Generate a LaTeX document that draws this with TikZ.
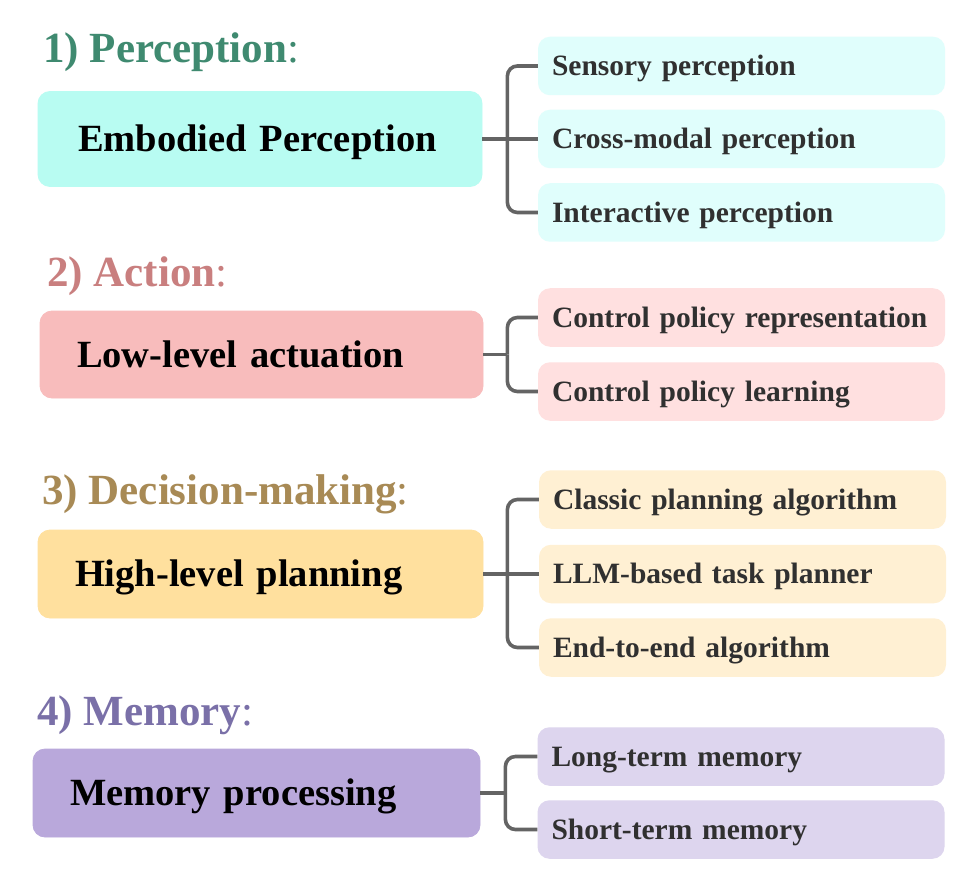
\documentclass[tikz,border=0pt]{standalone}
\usepackage{fontspec}
\setmainfont{Liberation Serif}
\usetikzlibrary{calc}
\definecolor{tA}{HTML}{3F8A70}
\definecolor{mA}{HTML}{B8FCF2}
\definecolor{sA}{HTML}{E0FEFC}
\definecolor{tB}{HTML}{C97F7F}
\definecolor{mB}{HTML}{F8BCBC}
\definecolor{sB}{HTML}{FFE0E0}
\definecolor{tC}{HTML}{A88A55}
\definecolor{mC}{HTML}{FFE09E}
\definecolor{sC}{HTML}{FFF0D3}
\definecolor{tD}{HTML}{7A70A8}
\definecolor{mD}{HTML}{B9A8DB}
\definecolor{sD}{HTML}{DDD5EE}
\definecolor{connc}{HTML}{646464}
\definecolor{subtext}{HTML}{303030}
\begin{document}
\begin{tikzpicture}[x=1pt,y=-1pt,
  titletext/.style={anchor=base west, inner sep=0pt, font=\fontsize{43}{50}\selectfont},
  mainbox/.style={rounded corners=12pt, draw=#1, fill=#1, line width=0.8pt,
     inner xsep=37pt, inner ysep=0pt, text width=371pt, minimum width=445pt, align=left,
     text height=34.6pt, text depth=9.2pt, text=black,
     font=\fontsize{38.5}{44}\selectfont\bfseries},
  subbox/.style={rounded corners=12pt, fill=#1, inner xsep=14pt, inner ysep=0pt,
     text width=379pt, minimum width=407pt, minimum height=58.5pt, align=left,
     text height=26.5pt, text depth=7.1pt, text=subtext,
     font=\fontsize{29.5}{34}\selectfont\bfseries},
  conn/.style={draw=connc, line width=3.6pt},
  branch/.style={conn, rounded corners=10pt}
]
\path[use as bounding box, fill=white] (0,0) rectangle (968,882);

% ---------- Row 1 ----------
\node[titletext, text=tA] (title1) at (43,63) {\bfseries 1) Perception\mdseries:};
\node[mainbox=mA, minimum height=95pt, inner xsep=40pt, text width=364pt, minimum width=444pt] (m1) at (260,139) {Embodied Perception};
\node[subbox=sA] (s11) at (741.5,66) {Sensory perception};
\node[subbox=sA] (s12) at (741.5,139) {Cross-modal perception};
\node[subbox=sA] (s13) at (741.5,212.5) {Interactive perception};
\coordinate (t1) at ($(m1.east)+(25,0)$);
\draw[conn] (m1.east) -- (s12.west);
\draw[branch] (t1) |- (s11.west);
\draw[branch] (t1) |- (s13.west);

% ---------- Row 2 ----------
\node[titletext, text=tB] (title2) at (47,287) {\bfseries 2) Action\mdseries:};
\node[mainbox=mB, minimum height=87pt, minimum width=443pt, text width=369pt] (m2) at (261.5,354.5) {Low-level actuation};
\node[subbox=sB] (s21) at (741.5,317.5) {Control policy representation};
\node[subbox=sB] (s22) at (741.5,391.5) {Control policy learning};
\coordinate (t2) at ($(m2.east)+(24,0)$);
\draw[conn] (m2.east) -- (t2);
\draw[branch] (t2) |- (s21.west);
\draw[branch] (t2) |- (s22.west);

% ---------- Row 3 ----------
\node[titletext, text=tC] (title3) at (42,504) {\bfseries 3) Decision-making\mdseries:};
\node[mainbox=mC, minimum height=88pt] (m3) at (260.5,574) {High-level planning};
\node[subbox=sC] (s31) at (742.5,499.5) {Classic planning algorithm};
\node[subbox=sC] (s32) at (742.5,574) {LLM-based task planner};
\node[subbox=sC] (s33) at (742.5,647.5) {End-to-end algorithm};
\coordinate (t3) at ($(m3.east)+(24,0)$);
\draw[conn] (m3.east) -- (s32.west);
\draw[branch] (t3) |- (s31.west);
\draw[branch] (t3) |- (s33.west);

% ---------- Row 4 ----------
\node[titletext, text=tD] (title4) at (37,725) {\bfseries 4) Memory\mdseries:};
\node[mainbox=mD, minimum height=88pt, minimum width=447pt, text width=373pt, inner xsep=37pt] (m4) at (256.5,793) {Memory processing};
\node[subbox=sD] (s41) at (741,756.5) {Long-term memory};
\node[subbox=sD] (s42) at (741,829.5) {Short-term memory};
\coordinate (t4) at ($(m4.east)+(25,0)$);
\draw[conn] (m4.east) -- (t4);
\draw[branch] (t4) |- (s41.west);
\draw[branch] (t4) |- (s42.west);
\end{tikzpicture}
\end{document}
